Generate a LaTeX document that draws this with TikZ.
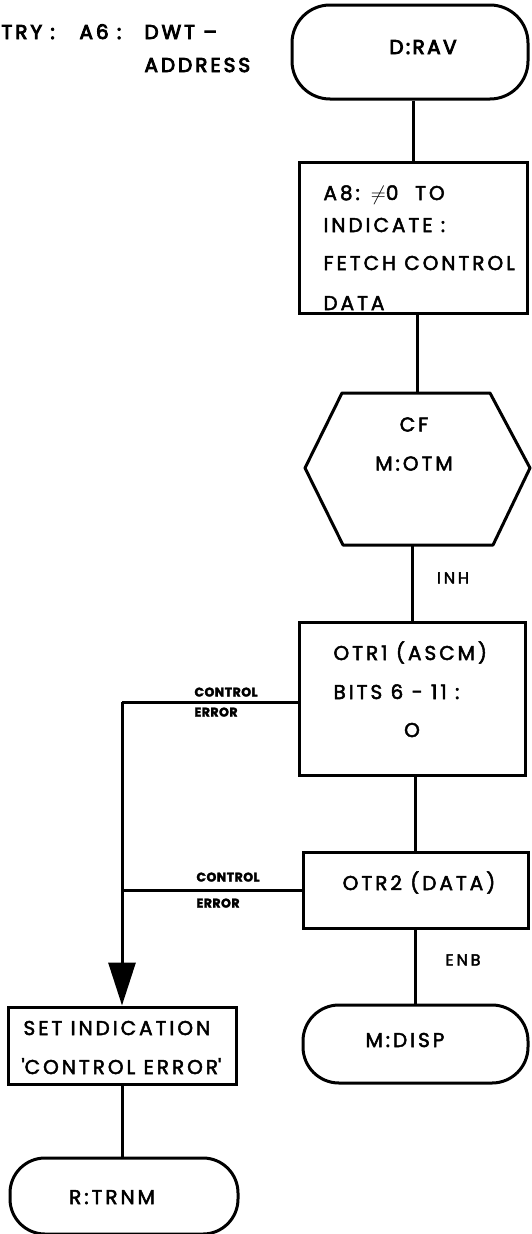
\documentclass[tikz,border=0pt]{standalone}
\usepackage{fontspec}
\setmainfont{Poppins}[LetterSpace=15,FakeBold=2.5]
\usetikzlibrary{arrows.meta,calc}
\begin{document}
\begin{tikzpicture}[x=1pt,y=-1pt, line width=3pt,
  box/.style={draw, rectangle, inner sep=0pt},
  term/.style={draw, rectangle, rounded corners=38pt, inner sep=0pt},
  tx/.style={inner sep=0pt, font=\fontsize{20}{22}\selectfont, text height=14pt, text depth=0pt},
  ltx/.style={tx, anchor=west},
  btx/.style={ltx, font=\fontsize{20}{22}\selectfont\addfontfeature{LetterSpace=15,FakeBold=4.5}},
  sm/.style={inner sep=0pt, anchor=west, font=\fontsize{12.5}{14}\selectfont\bfseries\addfontfeature{LetterSpace=4}, text height=9pt, text depth=0pt},
  md/.style={inner sep=0pt, font=\fontsize{16}{18}\selectfont\addfontfeature{LetterSpace=18}, text height=11pt, text depth=0pt},
  tip/.style={-{Triangle[length=43pt,width=27pt]}}
]
\useasboundingbox (0,0) rectangle (531,1234);

% entry text
\node[btx] (e1) at (0,32) {TRY :};
\node[btx] (e2) at (78,32) {A6 :};
\node[btx] (e3) at (143,32) {DWT –};
\node[btx] (e4) at (143,65) {ADDRESS};

% right column
\node[term, minimum width=236pt, minimum height=94pt] (drav) at (410,52) {};
\node[tx, font=\fontsize{20}{22}\selectfont\addfontfeature{LetterSpace=12,FakeBold=4.5}] (dravt) at (423,47) {D:RAV};

\node[box, minimum width=228pt, minimum height=151pt] (a8) at (413,237.5) {};
\node[ltx] (a8t1) at (322,193) {A8: $\neq$0 \ TO};
\node[ltx] (a8t2) at (322,225) {INDICATE :};
\node[ltx] (a8t3) at (322,263) {FETCH CONTROL};
\node[ltx] (a8t4) at (322,303) {DATA};

% decision hexagon (text node; outline drawn around it)
\node[inner sep=0pt, align=center, font=\fontsize{20}{39}\selectfont] (hex) at (414,444) {CF\\M:OTM};
\coordinate (hextop) at ($(hex)+(3,-51)$);
\coordinate (hexbot) at ($(hex)+(-2,101)$);
\draw[line join=round] ($(hex)+(-72,-51)$) -- ($(hex)+(76,-51)$) -- ($(hex)+(116,24)$)
  -- ($(hex)+(79,101)$) -- ($(hex)+(-71,101)$) -- ($(hex)+(-109,24)$) -- cycle;

\node[md] (inh) at (453,578) {INH};

\node[box, minimum width=226pt, minimum height=153pt] (otr1) at (412,698.5) {};
\node[ltx] (o1t1) at (332,653) {OTR1 (ASCM)};
\node[ltx] (o1t2) at (332,692) {BITS 6 - 11 :};
\node[tx] (o1t3) at (412,730) {O};

\node[box, minimum width=225pt, minimum height=76pt] (otr2) at (415.5,890) {};
\node[tx] (o2t) at (419,883) {OTR2 (DATA)};

\node[md] (enb) at (463,960) {ENB};

\node[term, minimum width=225pt, minimum height=78pt, rounded corners=36pt] (mdisp) at (415.5,1044) {};
\node[tx] (mdispt) at (405,1040) {M:DISP};

% left column
\node[box, minimum width=228pt, minimum height=77pt] (set) at (122,1045.5) {};
\node[ltx] (sett1) at (22,1028) {SET INDICATION};
\node[ltx] (sett2) at (20,1067) {\textquotesingle CONTROL ERROR\textquotesingle};

\node[term, minimum width=228pt, minimum height=76pt, rounded corners=35pt] (rtrnm) at (124,1196) {};
\node[tx] (rtrnmt) at (112,1197) {R:TRNM};

% branch labels
\node[sm] (c1a) at (193,692) {CONTROL};
\node[sm] (c1b) at (193,712) {ERROR};
\node[sm] (c2a) at (195,877) {CONTROL};
\node[sm] (c2b) at (195,903) {ERROR};

% connectors
\draw (drav.south -| a8.north) -- (a8.north);
\draw (hextop |- a8.south) -- (hextop);
\draw (otr1.north |- hexbot) -- (otr1.north);
\draw (otr2.north |- otr1.south) -- (otr2.north);
\draw (otr2.south) -- (mdisp.north);
\draw (set.south) -- (set.south |- rtrnm.north);

\coordinate (j1) at (122,702);
\coordinate (j2) at (122,890);
\draw[line join=round] (otr1.west |- j1) -- (j1);
\draw[tip] (j1) -- (set.north);
\draw (otr2.west |- j2) -- (j2);
\end{tikzpicture}
\end{document}
